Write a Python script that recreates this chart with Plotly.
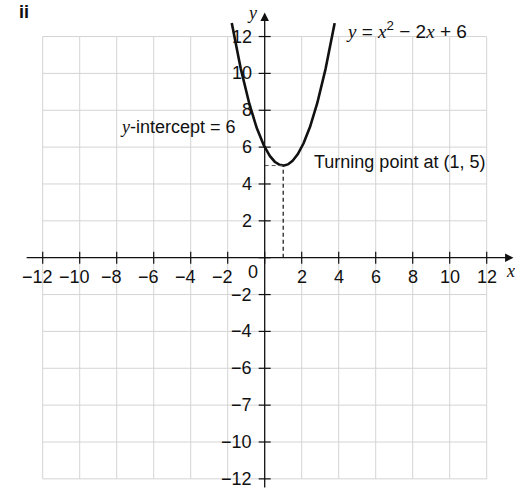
import numpy as np
import plotly.graph_objects as go

# Quadratic y = x^2 - 2x + 6, drawn between these x values
coef = [1, -2, 6]
x_ends = [-1.78, 3.78]
turning_point = [1, 5]
y_intercept = 6

# Axis ticks and labels
x_ticks = [-12, -10, -8, -6, -4, -2, 2, 4, 6, 8, 10, 12]
x_tick_labels = ["−12", "−10", "−8", "−6", "−4", "−2", "2", "4", "6", "8", "10", "12"]
y_ticks = [12, 10, 8, 6, 4, 2, -2, -4, -6, -8, -10, -12]
y_tick_labels = ["12", "10", "8", "6", "4", "2", "−2", "−4", "−6", "−7", "−10", "−12"]
grid_vals = [-12, -10, -8, -6, -4, -2, 0, 2, 4, 6, 8, 10, 12]

SANS = "Liberation Sans, Arial, sans-serif"
SERIF = "Liberation Serif"
INK = "#111111"
FS = 18


def it(s):
    return f"<span style=\"font-family:'{SERIF}'\"><i>{s}</i></span>"


xs = np.linspace(x_ends[0], x_ends[1], 300)
ys = np.polyval(coef, xs)

fig = go.Figure()
fig.add_trace(go.Scatter(x=xs, y=ys, mode="lines",
                         line=dict(color=INK, width=2.6), hoverinfo="skip"))

shapes = []
# grid
for g in grid_vals:
    if g != 0:
        shapes.append(dict(type="line", x0=g, x1=g, y0=-12, y1=12,
                           line=dict(color="#d4d4d4", width=1), layer="below"))
        shapes.append(dict(type="line", x0=-12, x1=12, y0=g, y1=g,
                           line=dict(color="#d4d4d4", width=1), layer="below"))

# tick marks
tx = 6 / 18.5
ty = 6 / 18.43
for t in grid_vals:
    shapes.append(dict(type="line", x0=t, x1=t, y0=-ty, y1=ty,
                       line=dict(color=INK, width=1.2)))
    shapes.append(dict(type="line", x0=-tx, x1=tx, y0=t, y1=t,
                       line=dict(color=INK, width=1.2)))

# dashed guides to the turning point
shapes.append(dict(type="line", x0=turning_point[0], x1=turning_point[0],
                   y0=0, y1=turning_point[1],
                   line=dict(color=INK, width=1.2, dash="4px,3px")))
shapes.append(dict(type="line", x0=0, x1=turning_point[0],
                   y0=turning_point[1], y1=turning_point[1],
                   line=dict(color="#555555", width=1, dash="4px,3px")))

annotations = []
# axes with arrowheads
annotations.append(dict(x=13.45, y=0, ax=-12.95, ay=0, xref="x", yref="y",
                        axref="x", ayref="y", text="", showarrow=True,
                        arrowhead=2, arrowsize=1.3, arrowwidth=1.3,
                        arrowcolor=INK))
annotations.append(dict(x=0, y=13.3, ax=0, ay=-12.55, xref="x", yref="y",
                        axref="x", ayref="y", text="", showarrow=True,
                        arrowhead=2, arrowsize=1.3, arrowwidth=1.3,
                        arrowcolor=INK))

font = dict(family=SANS, size=FS, color=INK)
for v, lab in zip(x_ticks, x_tick_labels):
    annotations.append(dict(x=v, y=0, text=lab, showarrow=False, font=font,
                            xanchor="center", yanchor="middle", yshift=-19,
                            xshift=-5 if v < 0 else 0))
for v, lab in zip(y_ticks, y_tick_labels):
    annotations.append(dict(x=0, y=v, text=lab, showarrow=False, font=font,
                            xanchor="right", yanchor="middle", xshift=-11))
annotations.append(dict(x=0, y=0, text="0", showarrow=False, font=font,
                        xanchor="center", yanchor="middle",
                        xshift=-12, yshift=-14))

# axis names
annotations.append(dict(x=0, y=13.3, text=it("y"), showarrow=False,
                        font=dict(family=SERIF, size=FS, color=INK),
                        xanchor="center", yanchor="middle", xshift=-13, yshift=0))
annotations.append(dict(x=13.45, y=0, text=it("x"), showarrow=False,
                        font=dict(family=SERIF, size=FS, color=INK),
                        xanchor="center", yanchor="middle", xshift=-3, yshift=-13))

# equation, turning point and intercept labels
annotations.append(dict(x=4.28, y=12.36,
                        text=f"{it('y')} = {it('x')}<sup>2</sup> − 2{it('x')} + 6",
                        showarrow=False, font=dict(family=SANS, size=19, color=INK),
                        xanchor="left", yanchor="middle"))
annotations.append(dict(x=2.54, y=5.2,
                        text=f"Turning point at ({turning_point[0]}, {turning_point[1]})",
                        showarrow=False, font=font, xanchor="left", yanchor="middle"))
annotations.append(dict(x=-1.44, y=7.1,
                        text=f"{it('y')}-intercept = {y_intercept}",
                        showarrow=False, font=font, xanchor="right", yanchor="middle"))
annotations.append(dict(x=24 / 515, y=1 - 12 / 490, xref="paper", yref="paper",
                        text="<b>ii</b>", showarrow=False,
                        font=dict(family=SANS, size=FS, color=INK),
                        xanchor="center", yanchor="middle"))

fig.update_layout(
    width=515, height=490,
    margin=dict(l=0, r=0, t=0, b=0),
    paper_bgcolor="white", plot_bgcolor="white",
    showlegend=False,
    xaxis=dict(range=[-264.7 / 18.5, (515 - 264.7) / 18.5], visible=False, fixedrange=True),
    yaxis=dict(range=[-(490 - 257.7) / 18.43, 257.7 / 18.43], visible=False, fixedrange=True),
    shapes=shapes,
    annotations=annotations,
)

fig.write_html("out.html")
